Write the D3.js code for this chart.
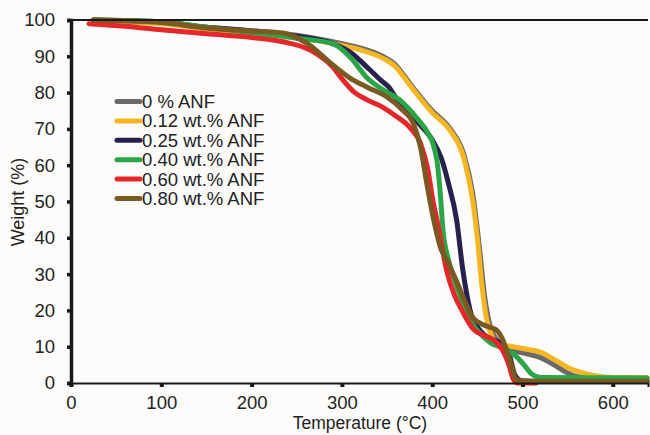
<!DOCTYPE html>
<html>
<head>
<meta charset="utf-8">
<script src="https://cdn.jsdelivr.net/npm/d3@7"></script>
<style>
  body { margin: 0; background: #fdfcfb; }
  svg { font-family: "Liberation Sans", Arial, sans-serif; }
</style>
</head>
<body>
<div id="chart"></div>
<script>
// TGA curves
var seriesNames = ["0 % ANF", "0.12 wt.% ANF", "0.25 wt.% ANF", "0.40 wt.% ANF", "0.60 wt.% ANF", "0.80 wt.% ANF"]
var seriesColors = ["#6b6a68", "#f4b623", "#25224f", "#2ba647", "#e5262a", "#7a5a22"]

var tempGray = [25, 60, 100, 150, 200, 250, 290, 320, 345, 360, 368, 380, 400, 420, 435, 445, 452, 458, 465, 475, 490, 505, 520, 535, 548, 560, 580, 610, 638]
var wGray = [100, 99.8, 99.3, 98, 97, 95.8, 94, 92.3, 90, 87.5, 85, 81, 75, 70, 63, 52, 38, 24, 15, 11, 9, 8, 7, 5, 3, 1.8, 1.3, 1.2, 1.2]

var tempYellow = [25, 100, 150, 200, 250, 290, 320, 345, 360, 368, 380, 400, 420, 435, 445, 450, 455, 460, 467, 475, 490, 505, 520, 535, 550, 565, 580, 600, 638]
var wYellow = [99.5, 99, 97.5, 96.5, 95.3, 93.5, 91.8, 89.5, 87, 84.5, 80.5, 74.5, 69.5, 62, 50, 40, 27, 18, 12.5, 10.5, 10, 9.3, 8.5, 6.5, 4.3, 2.9, 2, 1.5, 1.5]

var tempNavy = [25, 100, 150, 200, 250, 290, 310, 330, 345, 352, 360, 372, 385, 400, 410, 418, 427, 434, 442, 453, 462, 475, 485, 492, 500, 638]
var wNavy = [100, 99.5, 98, 97, 95.5, 93.5, 91, 86.5, 83, 81.5, 78.5, 75, 71.5, 67, 62, 55, 45, 31, 20, 14.5, 12.5, 11, 8, 2, 0.5, 0.5]

var tempGreen = [25, 100, 150, 200, 250, 290, 310, 328, 346, 364, 383, 395, 402, 406, 409, 412, 418, 428, 440, 450, 465, 480, 490, 500, 510, 520, 638]
var wGreen = [100, 99.5, 98, 96.5, 95, 93.5, 89.5, 84, 80.7, 78, 73, 69, 65, 60, 52, 42, 34, 26, 18, 14.5, 11, 9.5, 8, 5.5, 2.5, 1.5, 1.4]

var tempRed = [20, 60, 100, 150, 200, 235, 265, 290, 301, 312, 328, 345, 360, 375, 387, 395, 401, 406, 416, 425, 433, 445, 458, 467, 478, 485, 490, 495, 515]
var wRed = [99, 98.3, 97.3, 96.2, 95.2, 94, 91.7, 87, 83.5, 80.5, 78, 76, 73.5, 70.5, 66, 59, 50, 44, 31, 24, 20, 15, 13, 12, 9, 5, 1, 0, 0]

var tempBrown = [25, 100, 150, 200, 235, 261, 290, 309, 328, 350, 368, 379, 387, 394, 401, 409, 418, 427, 437, 445, 453, 462, 471, 478, 486, 494, 510, 638]
var wBrown = [100, 99.3, 97.8, 97, 96.4, 93.6, 87.6, 84, 81.5, 78.8, 75, 71.6, 65, 55, 45.7, 37.5, 33, 28, 22, 18, 16.5, 15.5, 14.6, 12, 6.3, 0.8, 0.5, 0.5]

var xTicks = [0, 100, 200, 300, 400, 500, 600]
var yTicks = [0, 10, 20, 30, 40, 50, 60, 70, 80, 90, 100]

var allTemps = [tempGray, tempYellow, tempNavy, tempGreen, tempRed, tempBrown]
var allWeights = [wGray, wYellow, wNavy, wGreen, wRed, wBrown]

var svgWidth = 650, svgHeight = 435
var margin = {top: 20, right: 2, bottom: 52, left: 71}

var svg = d3.select("#chart").append("svg")
    .attr("width", svgWidth).attr("height", svgHeight)

svg.append("rect").attr("width", svgWidth).attr("height", svgHeight).attr("fill", "#fdfcfb")

var xScale = d3.scaleLinear().domain([0, 639]).range([margin.left, svgWidth - margin.right])
var yScale = d3.scaleLinear().domain([0, 100]).range([svgHeight - margin.bottom, margin.top])

// the curves
var line = d3.line()
    .x(function(d) { return xScale(d[0]) })
    .y(function(d) { return yScale(d[1]) })
    .curve(d3.curveMonotoneX)

allTemps.forEach(function(temps, i) {
    var pts = temps.map(function(t, j) { return [t, allWeights[i][j]] })
    svg.append("path")
        .datum(pts)
        .attr("d", line)
        .attr("fill", "none")
        .attr("stroke", seriesColors[i])
        .attr("stroke-width", 5)
        .attr("stroke-linejoin", "round")
        .attr("stroke-linecap", "round")
})

// top frame line
svg.append("line")
    .attr("x1", xScale(0)).attr("x2", svgWidth - margin.right)
    .attr("y1", yScale(100)).attr("y2", yScale(100))
    .attr("stroke", "#1a1a1a").attr("stroke-width", 2)

// x axis
var xAxis = svg.append("g")
    .attr("transform", `translate(0, ${yScale(0)})`)
    .call(d3.axisBottom(xScale).tickValues(xTicks).tickSize(4).tickPadding(9))
xAxis.select(".domain").attr("stroke", "#1a1a1a").attr("stroke-width", 2)
xAxis.selectAll(".tick line").attr("stroke", "#1a1a1a").attr("stroke-width", 4)
xAxis.selectAll("text").attr("font-size", 18.5).attr("fill", "#222")

// y axis
var yAxis = svg.append("g")
    .attr("transform", `translate(${xScale(0)}, 0)`)
    .call(d3.axisLeft(yScale).tickValues(yTicks).tickSize(4).tickPadding(12))
yAxis.select(".domain").attr("stroke", "#1a1a1a").attr("stroke-width", 3.5)
yAxis.selectAll(".tick line").attr("stroke", "#1a1a1a").attr("stroke-width", 3.5)
yAxis.selectAll("text").attr("font-size", 18.5).attr("fill", "#222")

// axis titles
svg.append("text")
    .attr("x", 360).attr("y", 429)
    .attr("text-anchor", "middle")
    .attr("font-size", 17.5).attr("fill", "#222")
    .text("Temperature (°C)")

svg.append("text")
    .attr("transform", "translate(24, 202) rotate(-90)")
    .attr("text-anchor", "middle")
    .attr("font-size", 18).attr("fill", "#222")
    .text("Weight (%)")

// legend
var legend = svg.append("g").attr("transform", "translate(117, 101.5)")
seriesNames.forEach(function(name, i) {
    var row = legend.append("g").attr("transform", `translate(0, ${i * 19.4})`)
    row.append("line")
        .attr("x1", 0).attr("x2", 23).attr("y1", 0).attr("y2", 0)
        .attr("stroke", seriesColors[i]).attr("stroke-width", 5)
        .attr("stroke-linecap", "round")
    row.append("text")
        .attr("x", 25).attr("y", 6.5)
        .attr("font-size", 18.5).attr("fill", "#222")
        .text(name)
})
</script>
</body>
</html>
